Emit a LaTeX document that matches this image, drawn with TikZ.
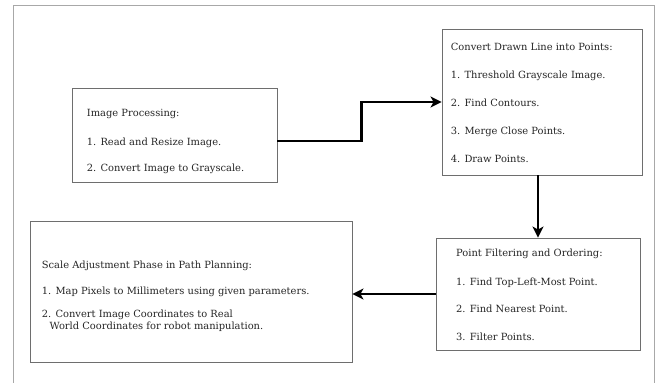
\documentclass[tikz,border=0pt]{standalone}
\usepackage{fontspec}
\setmainfont{DejaVu Serif}
\usetikzlibrary{arrows.meta}
\definecolor{framegray}{HTML}{A8A8A8}
\definecolor{boxgray}{HTML}{6E6E6E}
\definecolor{inkgray}{HTML}{262626}
\tikzset{
  stagebox/.style={draw=boxgray, line width=0.9pt, inner sep=0pt, fill=white},
  label line/.style={anchor=base west, inner sep=0pt, text=inkgray,
    font=\fontsize{9.9}{12}\selectfont},
  flow/.style={line width=2.4pt, -{Stealth[length=11pt,width=11pt,inset=3pt]}},
}
\begin{document}
\begin{tikzpicture}[x=1pt,y=-1pt]
  \useasboundingbox (0,0) rectangle (657,383);
  % outer page frame (open at the bottom)
  \draw[framegray, line width=0.9pt] (13,383) -- (13,5.5) -- (654,5.5) -- (654,383);

  % stage boxes
  \node[stagebox, minimum width=205pt, minimum height=94pt]  (b1) at (174.5,135) {};
  \node[stagebox, minimum width=200pt, minimum height=146pt] (b2) at (542,102)   {};
  \node[stagebox, minimum width=204pt, minimum height=112pt] (b3) at (538,294)   {};
  \node[stagebox, minimum width=322pt, minimum height=141pt] (b4) at (191,291.5) {};

  % stage 1
  \node[label line] (t11) at (86.7,116.8) {Image Processing:};
  \node[label line] (t12) at (86.7,145.5) {1. Read and Resize Image.};
  \node[label line] (t13) at (86.7,171.8) {2. Convert Image to Grayscale.};

  % stage 2
  \node[label line] (t21) at (450.7,50.5)  {Convert Drawn Line into Points:};
  \node[label line] (t22) at (450.7,78.8)  {1. Threshold Grayscale Image.};
  \node[label line] (t23) at (450.7,106.5) {2. Find Contours.};
  \node[label line] (t24) at (450.7,134.5) {3. Merge Close Points.};
  \node[label line] (t25) at (450.7,162.1) {4. Draw Points.};

  % stage 3
  \node[label line] (t31) at (456,256.8) {Point Filtering and Ordering:};
  \node[label line] (t32) at (456,285.5) {1. Find Top-Left-Most Point.};
  \node[label line] (t33) at (456,312.8) {2. Find Nearest Point.};
  \node[label line] (t34) at (456,340.5) {3. Filter Points.};

  % stage 4
  \node[label line] (t41) at (41.7,268.8) {Scale Adjustment Phase in Path Planning:};
  \node[label line] (t42) at (41.7,294.5) {1. Map Pixels to Millimeters using given parameters.};
  \node[label line] (t43) at (41.7,317.1) {2. Convert Image Coordinates to Real};
  \node[label line] (t44) at (49.3,329.8) {World Coordinates for robot manipulation.};

  % connectors
  \draw[flow] ([yshift=-5.7pt]b1.east) -- ++(84,0) |- (b2.west);
  \draw[flow] (b2.south -| b3.north) -- (b3.north);
  \draw[flow] (b3.west) -- (b3.west -| b4.east);
\end{tikzpicture}
\end{document}
